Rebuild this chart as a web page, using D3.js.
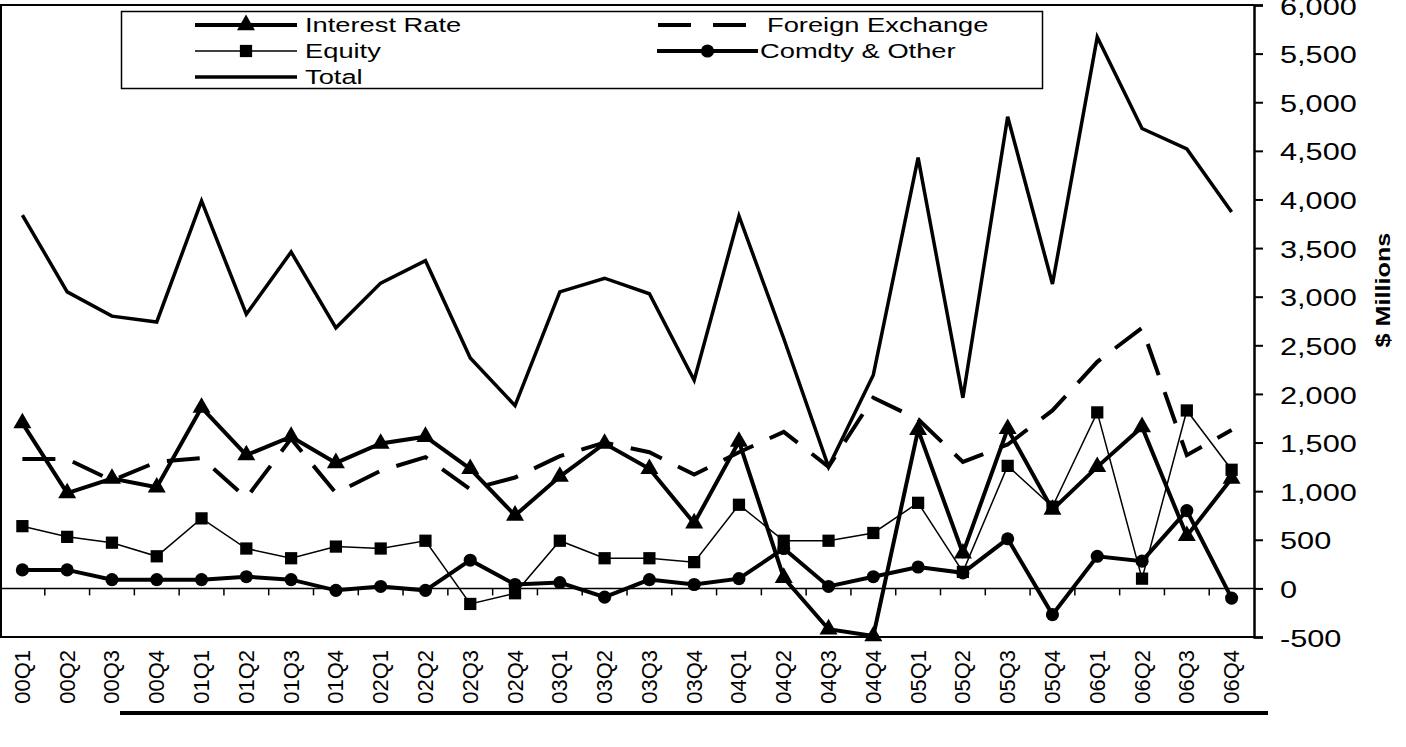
<!DOCTYPE html>
<html>
<head>
<meta charset="utf-8">
<script src="https://cdn.jsdelivr.net/npm/d3@7"></script>
<style>
  body { margin: 0; background: #fff; }
  svg { display: block; font-family: "Liberation Sans", Arial, sans-serif; }
</style>
</head>
<body>
<div id="chart"></div>
<script>
var quarters = ["00Q1","00Q2","00Q3","00Q4","01Q1","01Q2","01Q3","01Q4","02Q1","02Q2","02Q3","02Q4",
                "03Q1","03Q2","03Q3","03Q4","04Q1","04Q2","04Q3","04Q4","05Q1","05Q2","05Q3","05Q4",
                "06Q1","06Q2","06Q3","06Q4"];

var interestRate = [1700, 980, 1130, 1040, 1860, 1370, 1560, 1290, 1490, 1560, 1230, 750,
                    1150, 1490, 1230, 670, 1510, 110, -420, -490, 1630, 360, 1640, 810,
                    1250, 1660, 540, 1130];
var foreignExchange = [1330, 1330, 1110, 1300, 1340, 930, 1540, 980, 1210, 1350, 1020, 1140,
                       1360, 1500, 1400, 1170, 1400, 1610, 1250, 1960, 1740, 1300, 1480, 1830,
                       2330, 2680, 1370, 1630];
var equity = [640, 530, 470, 330, 720, 410, 310, 430, 410, 490, -160, -50,
              490, 310, 310, 270, 860, 490, 490, 570, 880, 170, 1260, 840,
              1810, 100, 1830, 1220];
var comdtyOther = [190, 190, 90, 90, 90, 120, 90, -20, 20, -20, 290, 40,
                   60, -90, 90, 40, 100, 410, 20, 120, 220, 160, 510, -270,
                   330, 280, 800, -100];
var total = [3840, 3050, 2800, 2740, 3985, 2820, 3460, 2680, 3140, 3370, 2370, 1880,
             3050, 3190, 3030, 2140, 3830, 2570, 1250, 2195, 4430, 1960, 4850, 3130,
             5670, 4730, 4520, 3870];

var yTicks = [-500, 0, 500, 1000, 1500, 2000, 2500, 3000, 3500, 4000, 4500, 5000, 5500, 6000];

var W = 1406, H = 747;
var plot = { left: 0, right: 1254, top: 5, bottom: 637 };

var svg = d3.select("#chart").append("svg").attr("width", W).attr("height", H);

var x = d3.scaleBand().domain(quarters).range([plot.left, plot.right]).padding(0);
var y = d3.scaleLinear().domain([-500, 6000]).range([plot.bottom, plot.top]);
var cx = function(q){ return x(q) + x.bandwidth() / 2; };
var fmt = d3.format(",");

// plot frame (top, left, bottom)
svg.append("path")
  .attr("d", "M" + plot.right + "," + plot.top + "H" + (plot.left + 1) + "V" + plot.bottom + "H" + plot.right)
  .attr("fill", "none").attr("stroke", "#000").attr("stroke-width", 2);

// right value axis
var yAxis = svg.append("g")
  .attr("transform", "translate(" + plot.right + ",0)")
  .call(d3.axisRight(y).tickValues(yTicks).tickSize(9).tickPadding(17)
        .tickFormat(function(d){ return fmt(d).replace("\u2212", "-"); }));
yAxis.select(".domain").attr("stroke-width", 2.5);
yAxis.selectAll(".tick line").attr("stroke-width", 2);
yAxis.selectAll(".tick text")
  .attr("font-size", 24).attr("font-family", "Liberation Sans, Arial, sans-serif")
  .attr("x", 26 / 1.28).attr("dy", "0.38em")
  .attr("transform", "scale(1.28,1)");

svg.append("text")
  .attr("transform", "translate(1383,290) rotate(-90) scale(1.2,1)")
  .attr("text-anchor", "middle").attr("dominant-baseline", "central")
  .attr("font-size", 21).attr("font-weight", "bold")
  .text("$ Millions");

// zero line with category ticks
svg.append("line")
  .attr("x1", plot.left).attr("x2", plot.right)
  .attr("y1", y(0)).attr("y2", y(0))
  .attr("stroke", "#000").attr("stroke-width", 1.5);
svg.selectAll(".cat-tick")
  .data(quarters.slice(1))
  .enter().append("line")
  .attr("class", "cat-tick")
  .attr("x1", function(d){ return x(d); }).attr("x2", function(d){ return x(d); })
  .attr("y1", y(0)).attr("y2", y(0) + 7)
  .attr("stroke", "#000").attr("stroke-width", 1.5);

// category labels
svg.selectAll(".cat-label")
  .data(quarters)
  .enter().append("text")
  .attr("class", "cat-label")
  .attr("transform", function(d){ return "translate(" + cx(d) + ",650) rotate(-90)"; })
  .attr("text-anchor", "end").attr("dominant-baseline", "central")
  .attr("font-size", 22)
  .text(function(d){ return d; });

// series
var series = [
  { name: "Interest Rate", values: interestRate, width: 4, dash: null, marker: "triangle" },
  { name: "Foreign Exchange", values: foreignExchange, width: 4, dash: "33,18", marker: null },
  { name: "Equity", values: equity, width: 1.5, dash: null, marker: "square" },
  { name: "Comdty & Other", values: comdtyOther, width: 4, dash: null, marker: "circle" },
  { name: "Total", values: total, width: 3.5, dash: null, marker: null }
];

var line = d3.line()
  .x(function(d, i){ return cx(quarters[i]); })
  .y(function(d){ return y(d); });

var symbolType = { triangle: d3.symbolTriangle, square: d3.symbolSquare, circle: d3.symbolCircle };
var symbolSize = { triangle: 140, square: 150, circle: 135 };

series.forEach(function(s){
  svg.append("path")
    .attr("d", line(s.values))
    .attr("fill", "none").attr("stroke", "#000")
    .attr("stroke-width", s.width)
    .attr("stroke-linejoin", "miter")
    .attr("stroke-dasharray", s.dash);
});

series.forEach(function(s){
  if (!s.marker) return;
  svg.selectAll(null)
    .data(s.values)
    .enter().append("path")
    .attr("d", d3.symbol().type(symbolType[s.marker]).size(symbolSize[s.marker]))
    .attr("transform", function(d, i){ return "translate(" + cx(quarters[i]) + "," + y(d) + ")"; })
    .attr("fill", "#000");
});

// legend
var legend = svg.append("g");
legend.append("rect")
  .attr("x", 121.5).attr("y", 11.5).attr("width", 921).attr("height", 77)
  .attr("fill", "#fff").attr("stroke", "#000").attr("stroke-width", 1.5);

var legendPos = [
  { x1: 195, x2: 297, y: 25, tx: 305 },
  { x1: 658, x2: 747, y: 25, tx: 767 },
  { x1: 195, x2: 297, y: 51, tx: 305 },
  { x1: 657, x2: 758, y: 51, tx: 760 },
  { x1: 195, x2: 297, y: 77, tx: 305 }
];

series.forEach(function(s, i){
  var p = legendPos[i];
  legend.append("line")
    .attr("x1", p.x1).attr("x2", p.x2).attr("y1", p.y).attr("y2", p.y)
    .attr("stroke", "#000").attr("stroke-width", s.width)
    .attr("stroke-dasharray", s.dash ? "33,22" : null);
  if (s.marker) {
    legend.append("path")
      .attr("d", d3.symbol().type(symbolType[s.marker]).size(symbolSize[s.marker]))
      .attr("transform", "translate(" + ((p.x1 + p.x2) / 2) + "," + p.y + ")")
      .attr("fill", "#000");
  }
  legend.append("text")
    .attr("transform", "translate(" + p.tx + "," + p.y + ") scale(1.3,1)")
    .attr("dominant-baseline", "central")
    .attr("font-size", 21)
    .text(s.name);
});

// rule under the chart
svg.append("line")
  .attr("x1", 120).attr("x2", 1268).attr("y1", 713).attr("y2", 713)
  .attr("stroke", "#000").attr("stroke-width", 4);
</script>
</body>
</html>
